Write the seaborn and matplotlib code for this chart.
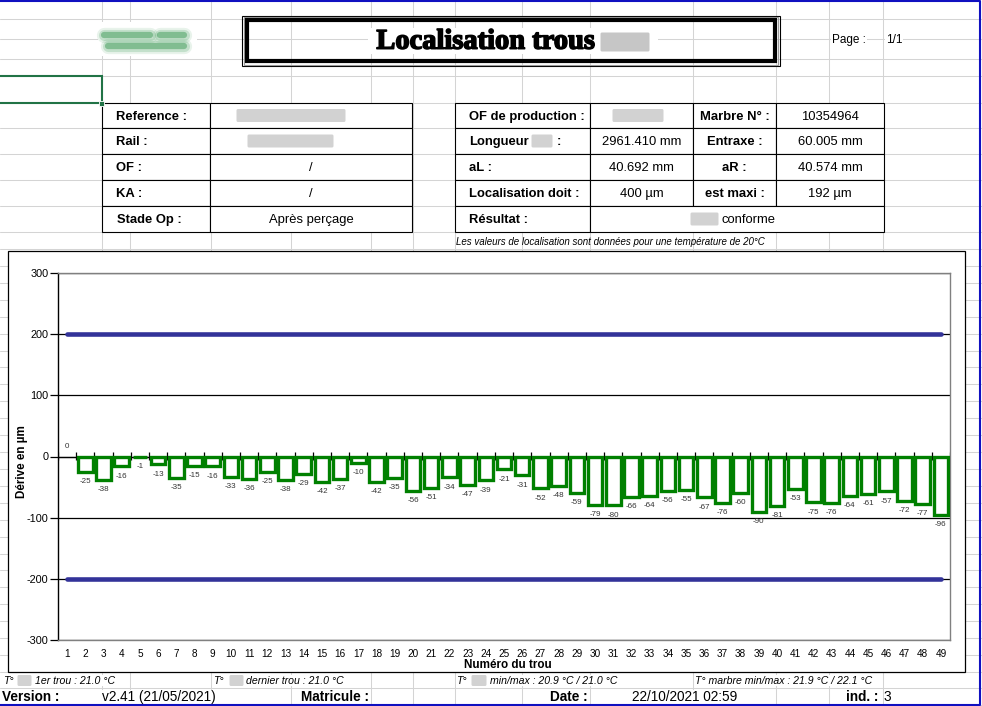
import numpy as np
import matplotlib
matplotlib.use("Agg")
import matplotlib.pyplot as plt
import matplotlib.patheffects as pe
from matplotlib.patches import Rectangle, FancyBboxPatch
import seaborn as sns

# --- data ---
holes = list(range(1, 50))
derive = [0, -25, -38, -16, -1, -13, -35, -15, -16, -33, -36, -25, -38, -29, -42,
          -37, -10, -42, -35, -56, -51, -34, -47, -39, -21, -31, -52, -48, -59, -79,
          -80, -66, -64, -56, -55, -67, -76, -60, -90, -81, -53, -75, -76, -64, -61,
          -57, -72, -77, -96]
limite = 200
y_ticks = [-300, -200, -100, 0, 100, 200, 300]

left_labels = ["Reference :", "Rail :", "OF :", "KA :", "Stade Op :"]
left_values = [None, None, "/", "/", "Après perçage"]
right_rows = [
    ["OF de production :", None, "Marbre N° :", "10354964"],
    ["Longueur", "2961.410 mm", "Entraxe :", "60.005 mm"],
    ["aL :", "40.692 mm", "aR :", "40.574 mm"],
    ["Localisation doit :", "400 µm", "est maxi :", "192 µm"],
]

sns.set_style("white")
plt.rcParams["font.family"] = ["Liberation Sans", "DejaVu Sans"]
plt.rcParams["axes.unicode_minus"] = False
for key in ["text.color", "axes.labelcolor", "xtick.color", "ytick.color"]:
    plt.rcParams[key] = "black"

W, H = 982, 706
fig = plt.figure(figsize=(W / 100, H / 100), dpi=100)
bg = fig.add_axes([0, 0, 1, 1])
bg.set_xlim(0, W)
bg.set_ylim(H, 0)
bg.axis("off")

# spreadsheet grid
grid_c = "#d4d4d4"
rows = [19, 39, 59, 76, 103, 128, 154, 180, 206, 232, 249]
rows += [249 + k * 16.92 for k in range(1, 26)] + [688, 705]
cols = [102, 130, 211, 291, 371, 413, 455, 522, 590, 693, 776, 829, 883]
for y in rows:
    bg.plot([0, W], [y, y], color=grid_c, lw=0.75, zorder=0)
for x in cols:
    bg.plot([x, x], [0, H], color=grid_c, lw=0.75, zorder=0)

# sheet border (blue) and the selected cell
bg.plot([0, 980, 980, 0], [0.8, 0.8, 705.2, 705.2], color="#1010c0", lw=1.5, zorder=5)
bg.add_patch(Rectangle((-2, 75.5), 104, 27.5, fill=False, ec="#217346", lw=1.5, zorder=4))
bg.add_patch(Rectangle((99.5, 100.5), 5, 5, fc="#217346", ec="white", lw=0.6, zorder=5))

# blurred logo
bg.add_patch(Rectangle((98, 22), 99, 34, fc="white", ec="none", zorder=1))
for lw, a in [(11, 0.1), (8, 0.18), (4.5, 0.4)]:
    bg.plot([104, 150], [34.5, 34.5], color="#1e8a3c", lw=lw, alpha=a, solid_capstyle="round", zorder=2)
    bg.plot([160, 184], [34.5, 34.5], color="#1e8a3c", lw=lw, alpha=a, solid_capstyle="round", zorder=2)
    bg.plot([108, 184], [45.5, 45.5], color="#1e8a3c", lw=lw, alpha=a, solid_capstyle="round", zorder=2)


def blur(x0, x1, yc, h=10, c="#c4c4c4"):
    bg.add_patch(FancyBboxPatch((x0, yc - h / 2), x1 - x0, h, boxstyle="round,pad=1.5",
                                fc=c, ec="none", alpha=0.75, zorder=3))


def txt(x, y, s, size=9.4, **kw):
    kw.setdefault("va", "center")
    return bg.text(x, y + 1.2, s, fontsize=size, zorder=4, **kw)


# title box
bg.add_patch(Rectangle((242.5, 15.5), 537.5, 50.5, fill=False, ec="black", lw=0.8, zorder=3))
bg.add_patch(Rectangle((244, 17), 534.5, 47.5, fill=False, ec="#9a9a9a", lw=0.8, zorder=3))
bg.add_patch(Rectangle((247.5, 19.5), 527.5, 41.5, fill=False, ec="black", lw=3.0, zorder=3))
bg.add_patch(Rectangle((368, 28), 290, 26, fc="white", ec="none", zorder=2))
title = txt(595, 41, "Localisation trous", size=20.5, ha="right", family="Liberation Serif",
            weight="bold", color="black")
title.set_path_effects([pe.Stroke(linewidth=1.1, foreground="black"), pe.Normal()])
blur(602, 648, 42, h=16, c="#b4b4b4")
txt(832, 39, "Page :", size=8.5, bbox=dict(fc="white", ec="none", pad=0.5))
txt(886, 39, "1/1", size=8.5, bbox=dict(fc="white", ec="none", pad=0.5))

# left table
row_y = [103, 128, 154, 180, 206, 232]
for i in range(5):
    y0, y1 = row_y[i], row_y[i + 1]
    yc = (y0 + y1) / 2
    for a, b in [(102, 210), (210, 412)]:
        bg.add_patch(Rectangle((a, y0), b - a, y1 - y0, fc="white", ec="black", lw=0.8, zorder=2))
    txt(116 if i < 4 else 117, yc, left_labels[i], weight="bold")
    if left_values[i] is not None:
        txt(311, yc, left_values[i], ha="center")
blur(238, 344, 115.5)
blur(249, 332, 141)

# right table
for i in range(5):
    y0, y1 = row_y[i], row_y[i + 1]
    yc = (y0 + y1) / 2
    cells = [(455, 590), (590, 693), (693, 776), (776, 884)] if i < 4 else [(455, 590), (590, 884)]
    for a, b in cells:
        bg.add_patch(Rectangle((a, y0), b - a, y1 - y0, fc="white", ec="black", lw=0.8, zorder=2))
    if i < 4:
        lab, val, lab2, val2 = right_rows[i]
        txt(469, yc, lab, weight="bold")
        if val is not None:
            txt(641.5, yc, val, ha="center")
        txt(734.5, yc, lab2, ha="center", weight="bold")
        txt(830, yc, val2, ha="center")
    else:
        txt(469, yc, "Résultat :", weight="bold")
        txt(722, yc, "conforme")
blur(614, 662, 115.5)
blur(533, 551, 141)
txt(557, 141, ":", weight="bold")
blur(692, 717, 219)
txt(456, 241, "Les valeurs de localisation sont données pour une température de 20°C",
    size=7, style="italic")

# footer rows
wb = dict(fc="white", ec="none", pad=0.3)
for x, s in [(3, "T°"), (35, "1er trou : 21.0 °C"), (213, "T°"), (246, "dernier trou : 21.0 °C"),
             (456, "T°"), (490, "min/max : 20.9 °C / 21.0 °C"),
             (695, "T° marbre min/max : 21.9 °C / 22.1 °C")]:
    txt(x, 679.5, s, size=7.6, style="italic", bbox=wb)
blur(19, 30, 680.5, h=8)
blur(231, 242, 680.5, h=8)
blur(473, 485, 680.5, h=8)
for x, s, w in [(2, "Version :", "bold"), (102, "v2.41 (21/05/2021)", "normal"),
                (301, "Matricule :", "bold"), (550, "Date :", "bold"),
                (632, "22/10/2021 02:59", "normal"), (846, "ind. :", "bold"), (884, "3", "normal")]:
    txt(x, 696, s, size=9.8, weight=w, bbox=wb)

# chart frame
bg.add_patch(Rectangle((8, 251), 957, 421, fc="white", ec="black", lw=0.9, zorder=1))

# --- the chart ---
ax = fig.add_axes([58 / W, 1 - 640 / H, (950 - 58) / W, (640 - 273) / H], zorder=2)
ax.set_facecolor("white")
sns.barplot(x=holes, y=derive, native_scale=True, color="white", saturation=1,
            edgecolor="#008000", linewidth=2.4, width=0.8, ax=ax, zorder=3)
bars = ax.containers[0]
for p, v in zip(bars.patches, bars.datavalues):
    if v == 0:
        p.set_edgecolor("none")
ax.bar_label(bars, fmt="%d", fontsize=5.8, padding=4.5, color="#333333")

for sign in (1, -1):
    sns.lineplot(x=holes, y=[sign * limite] * len(holes), color="#333399", lw=3.3,
                 solid_capstyle="round", ax=ax, zorder=4)

# category axis at 0 with ticks between the holes
ax.axhline(0, color="black", lw=0.9, zorder=2)
edges = np.append(np.array(holes) - 0.5, holes[-1] + 0.5)
ax.vlines(edges, -6, 7, color="black", lw=0.9, zorder=2)

ax.set_xlim(holes[0] - 0.5, holes[-1] + 0.5)
ax.set_ylim(y_ticks[0], y_ticks[-1])
ax.set_yticks(y_ticks)
ax.set_xticks(holes)
ax.grid(axis="y", color="black", lw=0.9)
ax.grid(axis="x", visible=False)
ax.set_axisbelow(True)
for side in ["top", "right", "bottom"]:
    ax.spines[side].set_color("#808080")
    ax.spines[side].set_linewidth(1)
ax.spines["left"].set_color("black")
ax.spines["left"].set_linewidth(1)
ax.tick_params(axis="y", left=True, length=6, width=0.9, color="black", labelsize=7.8, pad=1)
ax.tick_params(axis="x", bottom=False, length=0, labelsize=7.2, pad=6.5)

ax.set_xlabel("Numéro du trou", fontsize=8.4, fontweight="bold", va="center")
ax.xaxis.set_label_coords((508 - 58) / 892, (640 - 665) / 367)
ax.set_ylabel("Dérive en µm", fontsize=8.4, fontweight="bold", va="center")
ax.yaxis.set_label_coords((22 - 58) / 892, (640 - 462) / 367)

fig.savefig("out.png", dpi=100)
